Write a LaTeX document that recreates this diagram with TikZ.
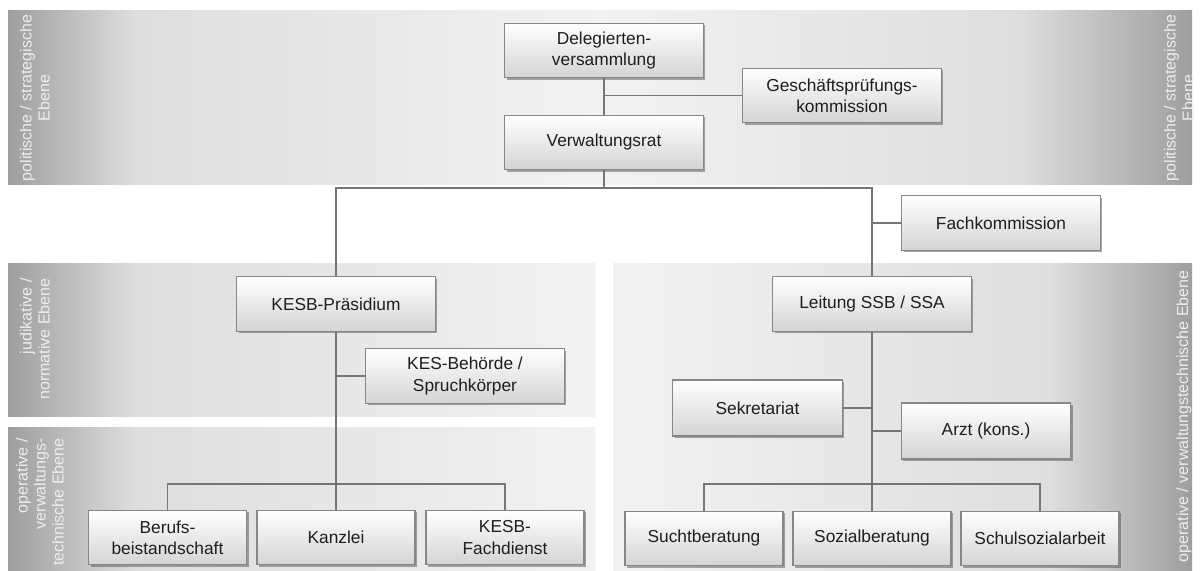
\documentclass[tikz,border=0pt]{standalone}
\usepackage{fontspec}
\setmainfont{Liberation Sans}
\usetikzlibrary{shadows}

\definecolor{bandDark}{RGB}{158,158,158}
\definecolor{bandMid}{RGB}{222,222,222}
\definecolor{bandPale}{RGB}{242,242,242}
\definecolor{lineGray}{RGB}{118,118,118}
\definecolor{boxBorder}{RGB}{135,135,135}
\definecolor{boxBottom}{RGB}{212,212,212}
\definecolor{textDark}{RGB}{30,30,30}
\definecolor{labelText}{RGB}{238,238,238}

\tikzset{every picture/.style={line width=0.75pt}}
\tikzset{
  orgbox/.style={draw=boxBorder, line width=0.8pt, top color=white, bottom color=boxBottom,
    drop shadow={shadow xshift=1.5pt, shadow yshift=-1.5pt, opacity=0.45, fill=black!75},
    inner sep=0pt, align=center, text=textDark, font=\fontsize{13}{16}\selectfont},
  widebox/.style={orgbox, minimum width=149pt, minimum height=41pt},
  midbox/.style={orgbox, minimum width=127pt, minimum height=42pt},
  smallbox/.style={orgbox, minimum width=118.5pt, minimum height=41pt},
  levellabel/.style={rotate=90, text=labelText, font=\fontsize{12}{13.5}\selectfont, inner sep=0pt},
  link/.style={draw=lineGray, line width=0.9pt}
}

\begin{document}
\begin{tikzpicture}[x=0.75pt,y=0.75pt,yscale=-1,xscale=1]
\useasboundingbox (0,0) rectangle (1200,571); %set diagram to 1200 x 571

%Shape: Band politische Ebene
\fill [bandMid] (8,10) rectangle (1192,184) ;
\shade [left color=bandDark, right color=bandMid] (8,10) rectangle (135,184) ;
\shade [left color=bandMid, right color=bandPale] (135,10) rectangle (600,184) ;
\shade [left color=bandPale, right color=bandMid] (600,10) rectangle (1020,184) ;
\shade [left color=bandMid, right color=bandDark] (1020,10) rectangle (1192,184) ;
%Shape: Band judikative Ebene
\shade [left color=bandDark, right color=bandMid] (8,263) rectangle (135,416) ;
\shade [left color=bandMid, right color=bandPale] (135,263) rectangle (595,416) ;
%Shape: Band operative Ebene links
\shade [left color=bandDark, right color=bandMid] (8,427) rectangle (135,571) ;
\shade [left color=bandMid, right color=bandPale] (135,427) rectangle (595,571) ;
%Shape: Band operative Ebene rechts
\shade [left color=bandPale, right color=bandMid] (613,263) rectangle (1050,571) ;
\shade [left color=bandMid, right color=bandDark] (1050,263) rectangle (1192,571) ;

% Text Node
\node [levellabel, align=center] (polL) at (35,98) {politische / strategische\\Ebene};
% Text Node
\node [levellabel, align=center] (polR) at (1179,98) {politische / strategische\\Ebene};
% Text Node
\node [levellabel, align=right, anchor=east] (judL) at (35,278) {judikative /\\normative Ebene};
% Text Node
\node [levellabel, align=right, anchor=east] (opL) at (40,438) {operative /\\verwaltungs-\\technische Ebene};
% Text Node
\node [levellabel, anchor=east] (opR) at (1184,270) {operative / verwaltungstechnische Ebene};

% Text Node
\node [widebox] (deleg) at (604,50.5) {Delegierten-\\versammlung};
% Text Node
\node [widebox] (gpk) at (842,95.5) {Geschäftsprüfungs-\\kommission};
% Text Node
\node [widebox] (verw) at (604,142.5) {Verwaltungsrat};
% Text Node
\node [widebox] (fachk) at (1001,223) {Fachkommission};
% Text Node
\node [widebox] (kesbp) at (336,304) {KESB-Präsidium};
% Text Node
\node [widebox] (kesbeh) at (465,376) {KES-Behörde /\\Spruchkörper};
% Text Node
\node [widebox] (leitung) at (872,304) {Leitung SSB / SSA};
% Text Node
\node [midbox] (sekr) at (757.5,408) {Sekretariat};
% Text Node
\node [midbox] (arzt) at (986,431) {Arzt (kons.)};
% Text Node
\node [smallbox] (berufs) at (167.5,537.5) {Berufs-\\beistandschaft};
% Text Node
\node [smallbox] (kanzlei) at (336,537.5) {Kanzlei};
% Text Node
\node [smallbox] (kesbfd) at (505,537.5) {KESB-\\Fachdienst};
% Text Node
\node [smallbox] (sucht) at (704,538.5) {Suchtberatung};
% Text Node
\node [smallbox] (sozial) at (872,538.5) {Sozialberatung};
% Text Node
\node [smallbox] (schul) at (1040,538.5) {Schulsozialarbeit};

\coordinate (split) at (604,188);
\coordinate (lbus) at (336,484);
\coordinate (rbus) at (872,484);

%Straight Lines
\draw [link] (deleg) -- (verw) ;
\draw [link] (gpk.west -| deleg.south) -- (gpk.west) ;
\draw [link] (verw) -- (split) ;
\draw [link] (kesbp.north) |- (split) -| (leitung.north) ;
\draw [link] (fachk.west -| leitung.north) -- (fachk.west) ;
%Straight Lines
\draw [link] (kesbp) -- (kanzlei) ;
\draw [link] (kesbeh.west -| kesbp.south) -- (kesbeh.west) ;
\draw [link] (berufs.north) |- (lbus) -| (kesbfd.north) ;
%Straight Lines
\draw [link] (leitung) -- (sozial) ;
\draw [link] (sekr.east) -- (sekr.east -| leitung.south) ;
\draw [link] (arzt.west -| leitung.south) -- (arzt.west) ;
\draw [link] (sucht.north) |- (rbus) -| (schul.north) ;

\end{tikzpicture}
\end{document}
